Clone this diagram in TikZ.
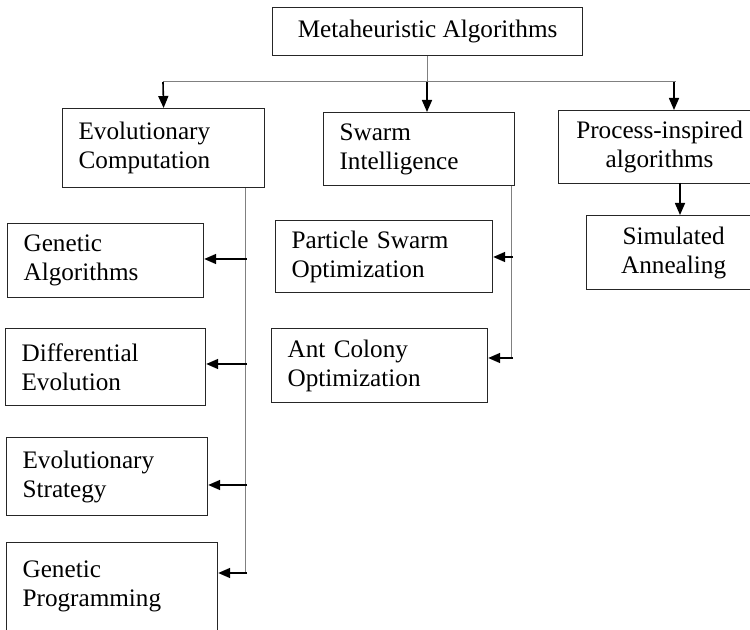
\documentclass[tikz,border=0pt]{standalone}
\usepackage{fontspec}
\setmainfont{Liberation Serif}
\usetikzlibrary{arrows.meta}
\tikzset{%
  >={Triangle[width=5pt,length=6pt]},
  % Specifications for style of nodes:
        base/.style = {rectangle, draw=black!85, line width=0.6pt,
                       anchor=north west, inner sep=0pt,
                       font=\fontsize{12.6}{14.5}\selectfont},
      centre/.style = {base, align=center},
        leaf/.style = {base, align=left, inner xsep=8pt},
  % Specifications for style of lines:
       trunk/.style = {draw=black!50, line width=0.5pt},
      branch/.style = {->, draw=black, line width=0.8pt},
}

\begin{document}
\begin{tikzpicture}[x=0.5pt, y=-0.5pt]
  \useasboundingbox (0,0) rectangle (750,630);
  % Specification of nodes (position, etc.)
  \node (meta)  [centre, minimum width=155pt, minimum height=24pt]  at (272,7)   {Metaheuristic Algorithms};
  \node (evo)   [leaf, text width=85pt, minimum height=39.5pt]      at (62,108)  {Evolutionary\\Computation};
  \node (swarm) [leaf, text width=79.5pt, minimum height=36.5pt]    at (323,112) {Swarm\\Intelligence};
  \node (proc)  [centre, minimum width=101pt, minimum height=36.5pt] at (558,110) {Process-inspired\\algorithms};
  \node (sa)    [centre, minimum width=87pt, minimum height=37pt]   at (586,215) {Simulated\\Annealing};
  \node (ga)    [leaf, text width=82pt, minimum height=37pt]        at (7,223)   {Genetic\\Algorithms};
  \node (pso)   [leaf, text width=92.5pt, minimum height=36pt]      at (275,220) {Particle Swarm\\Optimization};
  \node (de)    [leaf, text width=84pt, minimum height=38.5pt]      at (5,328)   {Differential\\Evolution};
  \node (aco)   [leaf, text width=92pt, minimum height=37pt]        at (271,328) {Ant Colony\\Optimization};
  \node (es)    [leaf, text width=84.5pt, minimum height=39pt]      at (6,437)   {Evolutionary\\Strategy};
  \node (gp)    [leaf, text width=89.5pt, inner ysep=9pt, text depth=45pt] at (6,542) {Genetic\\Programming};
  % Junction points of the connectors
  \coordinate (hl) at (163,82);
  \coordinate (hm) at (427,82);
  \coordinate (hr) at (674,82);
  \coordinate (pdrop) at (680,183);
  \coordinate (e1) at (247,259);
  \coordinate (e2) at (247,364);
  \coordinate (e3) at (247,485);
  \coordinate (e4) at (247,573);
  \coordinate (s1) at (513,257);
  \coordinate (s2) at (513,358);
  % Specification of lines between nodes specified above
  \draw[trunk] (meta.south) -- (meta.south |- hl);
  \draw[trunk] (hl) -- ([xshift=1pt]hr);
  \draw[branch] (hl) -- (evo.north);
  \draw[branch] (hm) -- (hm |- swarm.north);
  \draw[branch] (hr) -- (hr |- proc.north);
  \draw[branch] (pdrop) -- (pdrop |- sa.north);
  \draw[trunk] ([xshift=-1pt]e4 |- evo.south) -- ([xshift=-1pt]e4);
  \draw[branch] (e1) -- (e1 -| ga.east);
  \draw[branch] (e2) -- (e2 -| de.east);
  \draw[branch] (e3) -- (e3 -| es.east);
  \draw[branch] (e4) -- (e4 -| gp.east);
  \draw[trunk] ([xshift=-1pt]s2 |- swarm.south) -- ([xshift=-1pt]s2);
  \draw[branch] (s1) -- (s1 -| pso.east);
  \draw[branch] (s2) -- (s2 -| aco.east);
\end{tikzpicture}
\end{document}
